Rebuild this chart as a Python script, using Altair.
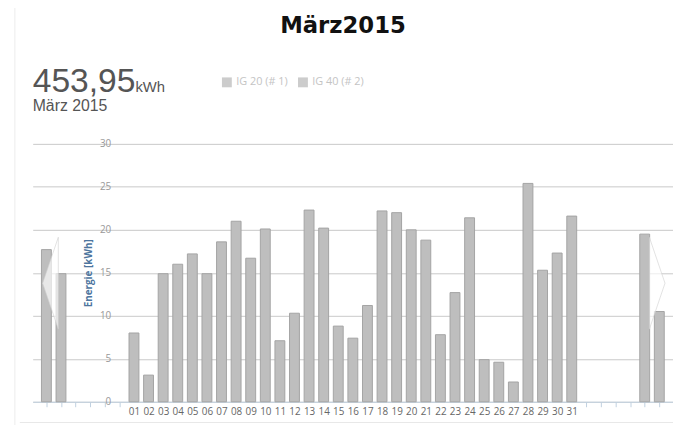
import altair as alt
import pandas as pd

# ---- data ----
days = list(range(1, 32))
energy = [8.0, 3.1, 14.9, 16.0, 17.2, 14.9, 18.6, 21.0, 16.7, 20.1,
          7.1, 10.3, 22.3, 20.2, 8.8, 7.4, 11.2, 22.2, 22.0, 20.0,
          18.8, 7.8, 12.7, 21.4, 4.9, 4.6, 2.3, 25.4, 15.3, 17.3, 21.6]
prev_days = [-5, -4]          # end of previous month (carousel)
prev_energy = [17.7, 14.9]
next_days = [36, 37]          # start of next month (carousel)
next_energy = [19.5, 10.5]
series = ["IG 20 (# 1)", "IG 40 (# 2)"]
y_ticks = [0, 5, 10, 15, 20, 25, 30]
x_ticks = list(range(-5, 38))
title_text = "März2015"
total_text = "453,95"
unit_text = "kWh"
period_text = "März 2015"
y_title = "Energie [kWh]"

bars_df = pd.DataFrame({"day": prev_days + days + next_days,
                        "energy": prev_energy + energy + next_energy})
legend_df = pd.DataFrame({"series": series})
one = pd.DataFrame({"k": [0]})

W, H = 648, 261
x_scale = alt.Scale(domain=[-5.6, 37.6], nice=False, zero=False)
y_scale = alt.Scale(domain=[0, 30], nice=False, zero=True)

in_month = "datum.value >= 1 && datum.value <= 31"

bars = alt.Chart(bars_df).mark_bar(
    size=10, fill="#bebebe", stroke="#a4a4a4", strokeWidth=1
).encode(
    x=alt.X("day:Q", scale=x_scale, title=None,
            axis=alt.Axis(values=x_ticks, grid=False,
                          labelExpr=f"{in_month} ? (datum.value < 10 ? '0' : '') + datum.value : ''",
                          labelOverlap=False, labelFlush=False,
                          labelFont="Open Sans", labelFontSize=10, labelColor="#666666",
                          labelPadding=0, tickSize=5,
                          tickColor={"condition": {"test": in_month, "value": "transparent"},
                                     "value": "#C0D0E0"},
                          domainColor="#C0D0E0", domainWidth=1)),
    y=alt.Y("energy:Q", scale=y_scale, title=y_title,
            axis=alt.Axis(values=y_ticks, offset=-83, domain=False, ticks=False,
                          grid=True, gridColor="#c8c8c8", gridWidth=1,
                          labelFont="Open Sans", labelFontSize=10, labelColor="#999999",
                          labelPadding=4,
                          titleFont="Open Sans", titleFontSize=10, titleFontWeight="bold",
                          titleColor="#4d759e", titlePadding=6)),
)

legend_layer = alt.Chart(legend_df).mark_square(opacity=0).encode(
    x=alt.value(0), y=alt.value(0),
    color=alt.Color("series:N",
                    scale=alt.Scale(domain=series, range=["#cccccc", "#cccccc"]),
                    legend=alt.Legend(orient="none", legendX=191, legendY=-68,
                                      direction="horizontal", title=None,
                                      symbolType="square", symbolSize=100,
                                      symbolStrokeWidth=0,
                                      labelColor="#c4c4c4", labelFont="Open Sans",
                                      labelFontSize=11, columnPadding=9,
                                      labelOffset=4, padding=0)),
)

def text_layer(txt, x, y, size, color, font, weight="normal", align="left"):
    return alt.Chart(one).mark_text(
        text=txt, align=align, baseline="alphabetic", fontSize=size,
        color=color, font=font, fontWeight=weight
    ).encode(x=alt.value(x), y=alt.value(y))

title_l = text_layer(title_text, 314, -112, 23, "#111111", "DejaVu Sans", "bold", "center")
total_l = text_layer(total_text, 0, -53, 34, "#555555", "Liberation Sans")
unit_l = text_layer(unit_text, 104, -53, 15, "#555555", "Liberation Sans")
period_l = text_layer(period_text, 0, -33, 16, "#555555", "Liberation Sans")

left_arrow = alt.Chart(one).mark_point(
    shape="M 0.17 -1 L -0.17 0 L 0.17 1 Z", filled=True, fill="white",
    fillOpacity=0.65, stroke="#d0d0d0", strokeWidth=0.6, size=8649
).encode(x=alt.value(18), y=alt.value(141))
right_arrow = alt.Chart(one).mark_point(
    shape="M -0.17 -1 L 0.17 0 L -0.17 1 Z", filled=True, fill="white",
    fillOpacity=0.65, stroke="#d0d0d0", strokeWidth=0.6, size=8649
).encode(x=alt.value(632), y=alt.value(141))

border = alt.Chart(one).mark_rule(color="#ececec", strokeWidth=1).encode(
    x=alt.value(-18), y=alt.value(-140), y2=alt.value(300))
base_line = alt.Chart(one).mark_rule(color="#e8e8e8", strokeWidth=1).encode(
    x=alt.value(-13), x2=alt.value(648), y=alt.value(282))

chart = alt.layer(
    border, base_line, bars, legend_layer, left_arrow, right_arrow,
    title_l, total_l, unit_l, period_l
).properties(
    width=W, height=H,
    padding={"left": 25, "top": 135, "right": 0, "bottom": 21},
    autosize=alt.AutoSizeParams(type="none"),
).configure_view(strokeWidth=0)

chart.save("out.html", embed_options={"renderer": "svg", "actions": False})
